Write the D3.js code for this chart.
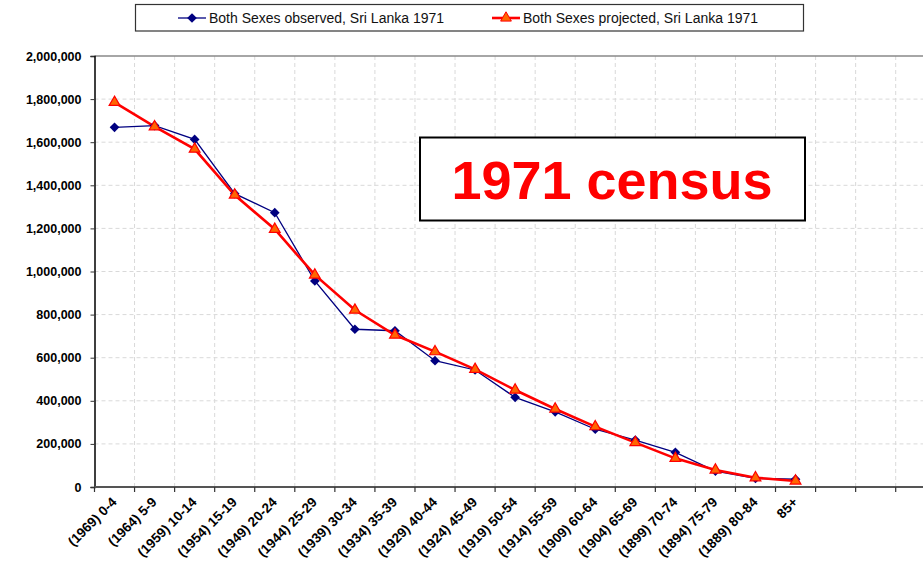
<!DOCTYPE html>
<meta charset="utf-8">
<style>
body { margin: 0; background: #fff; }
svg { font-family: Arial, "Liberation Sans", sans-serif; }
.grid line { stroke: #d9d9d9; stroke-dasharray: 4,3; }
.ylab text { font-weight: bold; font-size: 12.5px; fill: #000; }
.xlab text { font-weight: bold; font-size: 13.5px; fill: #000; }
</style>
<body>
<script src="https://d3js.org/d3.v7.min.js"></script>
<script>

// age groups (birth cohort in brackets)
var ageGroups = ["(1969) 0-4", "(1964) 5-9", "(1959) 10-14", "(1954) 15-19",
  "(1949) 20-24", "(1944) 25-29", "(1939) 30-34", "(1934) 35-39",
  "(1929) 40-44", "(1924) 45-49", "(1919) 50-54", "(1914) 55-59",
  "(1909) 60-64", "(1904) 65-69", "(1899) 70-74", "(1894) 75-79",
  "(1889) 80-84", "85+"];
// unused category slots at the right end of the axis
var emptySlots = ["", "", ""];

var observed = [1669000, 1677000, 1613000, 1361000, 1273000, 956000, 732000,
  725000, 586000, 543000, 416000, 349000, 268000, 218000, 161000, 74000,
  40000, 36000];
var projected = [1785000, 1672000, 1568000, 1355000, 1196000, 984000, 821000,
  705000, 628000, 546000, 450000, 362000, 280000, 206000, 133000, 79000,
  43000, 28000];

var yTicks = [0, 200000, 400000, 600000, 800000, 1000000, 1200000,
  1400000, 1600000, 1800000, 2000000];

var seriesNames = ["Both Sexes observed, Sri Lanka  1971",
  "Both Sexes projected, Sri Lanka  1971"];
var boxText = "1971 census";

var W = 923, H = 562;
var plotLeft = 94.5, plotBottom = 487, plotTop = 56, step = 40.06;
var cats = ageGroups.concat(emptySlots);

var svg = d3.select("body").append("svg")
    .attr("width", W).attr("height", H);

var x = d3.scaleBand().domain(d3.range(cats.length))
    .range([plotLeft, plotLeft + step * cats.length]);
var y = d3.scaleLinear().domain([0, 2000000]).range([plotBottom, plotTop]);

// grid
var grid = svg.append("g").attr("class", "grid");
grid.selectAll(".h").data(yTicks.slice(1, -1)).enter().append("line")
    .attr("x1", plotLeft).attr("x2", W)
    .attr("y1", function(d) { return y(d); })
    .attr("y2", function(d) { return y(d); });
grid.selectAll(".v").data(d3.range(1, cats.length)).enter().append("line")
    .attr("x1", function(i) { return x(i); })
    .attr("x2", function(i) { return x(i); })
    .attr("y1", plotTop).attr("y2", plotBottom);

// top border of plot
svg.append("line").attr("x1", plotLeft).attr("x2", W)
    .attr("y1", plotTop).attr("y2", plotTop)
    .attr("stroke", "#888").attr("stroke-width", 1.5);

// y axis
var yAxis = svg.append("g").attr("class", "ylab")
    .attr("transform", "translate(" + plotLeft + ",0)")
    .call(d3.axisLeft(y).tickValues(yTicks).tickSize(4).tickPadding(9)
      .tickFormat(d3.format(",")));
yAxis.select(".domain").attr("stroke", "#000").attr("stroke-width", 1.5);
yAxis.selectAll(".tick line").attr("stroke", "#333");

// x axis: ticks on category boundaries
var xg = svg.append("g");
xg.append("line").attr("x1", plotLeft).attr("x2", W)
    .attr("y1", plotBottom).attr("y2", plotBottom)
    .attr("stroke", "#555").attr("stroke-width", 2);
xg.selectAll(".xt").data(d3.range(cats.length)).enter().append("line")
    .attr("x1", function(i) { return x(i); })
    .attr("x2", function(i) { return x(i); })
    .attr("y1", plotBottom).attr("y2", plotBottom + 5)
    .attr("stroke", "#333").attr("stroke-width", 1.2);

xg.append("g").attr("class", "xlab").selectAll("text")
    .data(cats).enter().append("text")
    .attr("text-anchor", "end")
    .attr("transform", function(d, i) {
      return "translate(" + (x(i) + x.bandwidth() / 2 + 3) + "," + (plotBottom + 16) + ") rotate(-45)";
    })
    .text(function(d) { return d; });

// lines
var lineGen = d3.line()
    .x(function(d, i) { return x(i) + x.bandwidth() / 2; })
    .y(function(d) { return y(d); });

svg.append("path").datum(observed)
    .attr("fill", "none").attr("stroke", "#000080").attr("stroke-width", 1.3)
    .attr("d", lineGen);
svg.append("path").datum(projected)
    .attr("fill", "none").attr("stroke", "#ff0000").attr("stroke-width", 2.6)
    .attr("d", lineGen);

var diamond = d3.symbol().type(d3.symbolDiamond2).size(60);
var tri = d3.symbol().type(d3.symbolTriangle).size(50);

svg.selectAll(".obs").data(observed).enter().append("path")
    .attr("d", diamond)
    .attr("transform", function(d, i) {
      return "translate(" + (x(i) + x.bandwidth() / 2) + "," + y(d) + ")";
    })
    .attr("fill", "#000080");
svg.selectAll(".proj").data(projected).enter().append("path")
    .attr("d", tri)
    .attr("transform", function(d, i) {
      return "translate(" + (x(i) + x.bandwidth() / 2) + "," + y(d) + ")";
    })
    .attr("fill", "#ff6600").attr("stroke", "#ff0000").attr("stroke-width", 1.2);

// legend
var lg = svg.append("g");
lg.append("rect").attr("x", 135.5).attr("y", 4.5).attr("width", 668).attr("height", 26.5)
    .attr("fill", "#fff").attr("stroke", "#333").attr("stroke-width", 1.2);
var legendItems = [
  {x: 178, color: "#000080", w: 1.3, sym: diamond, fill: "#000080"},
  {x: 492, color: "#ff0000", w: 2.6, sym: tri, fill: "#ff6600"}
];
legendItems.forEach(function(it, k) {
  lg.append("line").attr("x1", it.x).attr("x2", it.x + 28)
      .attr("y1", 18).attr("y2", 18)
      .attr("stroke", it.color).attr("stroke-width", it.w);
  lg.append("path").attr("d", it.sym)
      .attr("transform", "translate(" + (it.x + 14) + ",18)")
      .attr("fill", it.fill).attr("stroke", k ? "#ff0000" : "none");
  lg.append("text").attr("x", it.x + 31).attr("y", 23)
      .attr("font-size", 14).attr("fill", "#111")
      .text(seriesNames[k]);
});

// census annotation
svg.append("rect").attr("x", 420).attr("y", 137.5).attr("width", 385).attr("height", 83)
    .attr("fill", "#fff").attr("stroke", "#000").attr("stroke-width", 2);
svg.append("text").attr("x", 612).attr("y", 199)
    .attr("text-anchor", "middle")
    .attr("font-size", 54).attr("font-weight", "bold").attr("fill", "#ff0000")
    .text(boxText);

</script>
</body>
